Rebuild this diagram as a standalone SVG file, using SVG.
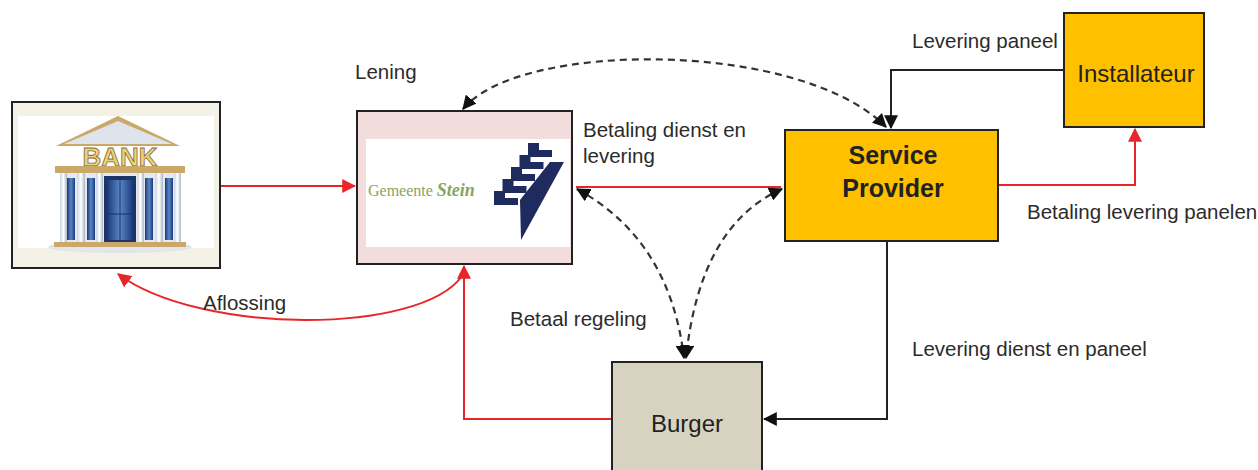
<svg xmlns="http://www.w3.org/2000/svg" width="1258" height="470" viewBox="0 0 1258 470">
<defs>
<style>
.lbl{font-family:"Liberation Sans",Arial,sans-serif;font-size:20.5px;fill:#2b2b2b}
.node{stroke:#222;stroke-width:2}
.red{fill:none;stroke:#e8262a;stroke-width:2}
.blk{fill:none;stroke:#222;stroke-width:2}
.dash{fill:none;stroke:#333;stroke-width:2.2;stroke-dasharray:7 5}
.big{font-family:"Liberation Sans",Arial,sans-serif;fill:#222;text-anchor:middle}
</style>
<marker id="ab" viewBox="0 0 12 12" refX="11" refY="6" markerWidth="14" markerHeight="14" markerUnits="userSpaceOnUse" orient="auto-start-reverse"><path d="M0,0 L12,6 L0,12 z" fill="#111"/></marker>
<marker id="ar" viewBox="0 0 12 12" refX="11" refY="6" markerWidth="14" markerHeight="14" markerUnits="userSpaceOnUse" orient="auto-start-reverse"><path d="M0,0 L12,6 L0,12 z" fill="#e8262a"/></marker>
<linearGradient id="col" x1="0" x2="1"><stop offset="0" stop-color="#c9d3e0"/><stop offset="0.5" stop-color="#ffffff"/><stop offset="1" stop-color="#aab6c8"/></linearGradient>
<linearGradient id="win" x1="0" x2="1"><stop offset="0" stop-color="#1a3a7a"/><stop offset="0.5" stop-color="#5b86c4"/><stop offset="1" stop-color="#1a3a7a"/></linearGradient>
</defs>
<rect width="1258" height="470" fill="#ffffff"/>

<g id="connectors">
<path class="red" d="M220,186 H355" marker-end="url(#ar)"/>
<path class="red" d="M576,187 H781"/>
<path class="red" d="M998,185 H1135 V129" marker-end="url(#ar)"/>
<path class="red" d="M612,419 H464 V266" marker-end="url(#ar)"/>
<path class="red" d="M462,276 C420,335 200,335 118,274" marker-end="url(#ar)"/>
<path class="blk" d="M1064,70 H891 V128" marker-end="url(#ab)"/>
<path class="blk" d="M887,241 V419 H764" marker-end="url(#ab)"/>
<path class="dash" d="M463,109 C520,40 800,40 886,127" marker-start="url(#ab)" marker-end="url(#ab)"/>
<path class="dash" d="M577,189 Q670,240 684,358" marker-start="url(#ab)" marker-end="url(#ab)"/>
<path class="dash" d="M782,189 Q700,225 686,358" marker-start="url(#ab)" marker-end="url(#ab)"/>
<text class="lbl" x="355" y="79">Lening</text>
<text class="lbl" x="583" y="137">Betaling dienst en</text>
<text class="lbl" x="583" y="163">levering</text>
<text class="lbl" x="912" y="48">Levering paneel</text>
<text class="lbl" x="1027" y="219">Betaling levering panelen</text>
<text class="lbl" x="912" y="356">Levering dienst en paneel</text>
<text class="lbl" x="510" y="326">Betaal regeling</text>
<text class="lbl" x="203" y="310">Aflossing</text>
</g>

<g id="bank">
<rect class="node" x="12" y="102" width="208" height="166" fill="#f4f2e6"/>
<rect x="18" y="116" width="196" height="132" fill="#ffffff"/>
<ellipse cx="120" cy="247" rx="72" ry="6" fill="#dfe3ea"/>
<polygon points="118,116 180,146 56,146" fill="#c9a86a"/>
<polygon points="118,121 172,144 64,144" fill="#dfe4ec"/>
<text x="120" y="166" font-family="Liberation Sans,Arial,sans-serif" font-weight="bold" font-size="26" fill="#ead37e" stroke="#8a6a2a" stroke-width="0.8" text-anchor="middle">BANK</text>
<rect x="55" y="166" width="130" height="7" fill="#c9a86a"/>
<rect x="60" y="173" width="120" height="70" fill="#e6eaf0"/>
<rect x="67" y="178" width="8" height="62" fill="url(#win)"/>
<rect x="87" y="178" width="8" height="62" fill="url(#win)"/>
<rect x="145" y="178" width="8" height="62" fill="url(#win)"/>
<rect x="165" y="178" width="8" height="62" fill="url(#win)"/>
<rect x="104" y="176" width="32" height="66" fill="#1d3566"/>
<rect x="107" y="180" width="26" height="60" fill="url(#win)"/>
<line x1="120" y1="180" x2="120" y2="240" stroke="#1d3566" stroke-width="1"/>
<line x1="107" y1="214" x2="133" y2="214" stroke="#1d3566" stroke-width="1"/>
<rect x="60" y="173" width="7" height="70" fill="url(#col)"/>
<rect x="77" y="173" width="8" height="70" fill="url(#col)"/>
<rect x="96" y="173" width="7" height="70" fill="url(#col)"/>
<rect x="137" y="173" width="7" height="70" fill="url(#col)"/>
<rect x="155" y="173" width="8" height="70" fill="url(#col)"/>
<rect x="174" y="173" width="7" height="70" fill="url(#col)"/>
<rect x="54" y="242" width="132" height="5" fill="#c9a86a"/>
<rect x="58" y="247" width="124" height="4" fill="#e3e6ea"/>
</g>

<g id="gemeente">
<rect class="node" x="357" y="111" width="215" height="153" fill="#f2dcdc"/>
<rect x="366" y="139" width="204" height="108" fill="#ffffff"/>
<text x="368" y="196" font-family="Liberation Serif,'Times New Roman',serif" font-size="16" fill="#86a560">Gemeente <tspan font-style="italic" font-weight="bold" font-size="18">Stein</tspan></text>
<g fill="#1f2a5e">
<path d="M528,143 h11 v7 h13 v7 h-24 z"/>
<path d="M519.5,155 h11 v7 h13 v7 h-24 z"/>
<path d="M511,167 h11 v7 h13 v7 h-24 z"/>
<path d="M502.5,179 h11 v7 h13 v7 h-24 z"/>
<path d="M494,191 h11 v7 h13 v7 h-24 z"/>
<polygon points="550,162 564,162 521,240 520,200"/>
</g>
</g>

<g id="service-provider">
<rect class="node" x="785" y="130" width="213" height="111" fill="#ffc000"/>
<text class="big" x="893" y="164" font-size="25" font-weight="bold">Service</text>
<text class="big" x="893" y="197" font-size="25" font-weight="bold">Provider</text>
</g>

<g id="installateur">
<rect class="node" x="1064" y="13" width="140" height="114" fill="#ffc000"/>
<text class="big" x="1136" y="82" font-size="24">Installateur</text>
</g>

<g id="burger">
<rect class="node" x="612" y="362" width="150" height="112" fill="#d8d3c0"/>
<text class="big" x="687" y="432" font-size="24">Burger</text>
</g>
</svg>
